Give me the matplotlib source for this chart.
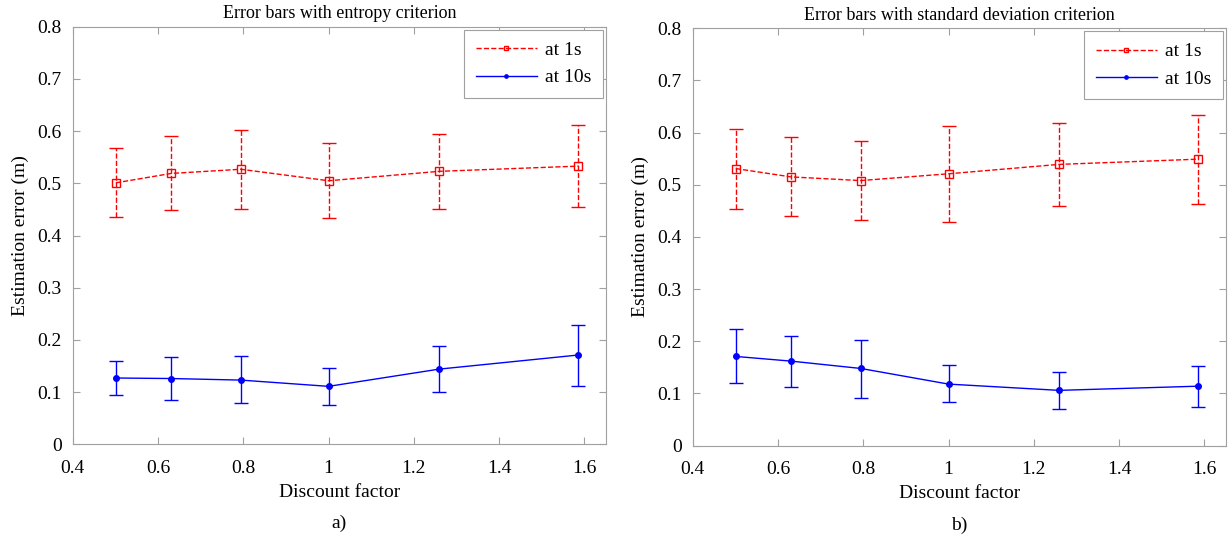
import matplotlib
matplotlib.use("Agg")
import matplotlib.pyplot as plt
from matplotlib.ticker import FuncFormatter
import numpy as np

plt.rcParams['font.family'] = ['Liberation Serif', 'DejaVu Serif']

# discount factors (10^-0.3 ... 10^0.2)
discount = [0.501, 0.631, 0.794, 1.0, 1.259, 1.585]

# entropy criterion
ent_1s = [0.501, 0.519, 0.527, 0.505, 0.523, 0.533]
ent_1s_low = [0.435, 0.448, 0.450, 0.434, 0.450, 0.454]
ent_1s_high = [0.567, 0.591, 0.603, 0.577, 0.595, 0.611]
ent_10s = [0.127, 0.126, 0.123, 0.111, 0.144, 0.171]
ent_10s_low = [0.094, 0.085, 0.079, 0.075, 0.101, 0.112]
ent_10s_high = [0.160, 0.167, 0.169, 0.146, 0.189, 0.229]

# standard deviation criterion
std_1s = [0.531, 0.515, 0.508, 0.521, 0.539, 0.549]
std_1s_low = [0.454, 0.441, 0.432, 0.428, 0.459, 0.464]
std_1s_high = [0.607, 0.591, 0.584, 0.613, 0.619, 0.634]
std_10s = [0.171, 0.162, 0.148, 0.118, 0.106, 0.114]
std_10s_low = [0.120, 0.113, 0.092, 0.084, 0.070, 0.075]
std_10s_high = [0.223, 0.211, 0.203, 0.154, 0.141, 0.153]

titles = ["Error bars with entropy criterion",
          "Error bars with standard deviation criterion"]
panel_labels = ["a)", "b)"]
series_labels = ["at 1s", "at 10s"]

fig = plt.figure(figsize=(12.31, 5.38), dpi=100)
ax1 = fig.add_axes([0.0591, 0.1742, 0.433, 0.776])
ax2 = fig.add_axes([0.5627, 0.1716, 0.433, 0.776])

fmt = FuncFormatter(lambda v, p: "%g" % round(v, 2))
grey = "#a0a0a0"


def err(mid, low, high):
    mid = np.array(mid)
    return [mid - np.array(low), np.array(high) - mid]


panels = [
    (ax1, ent_1s, ent_1s_low, ent_1s_high, ent_10s, ent_10s_low, ent_10s_high),
    (ax2, std_1s, std_1s_low, std_1s_high, std_10s, std_10s_low, std_10s_high),
]

for i, (ax, r, rl, rh, b, bl, bh) in enumerate(panels):
    red = ax.errorbar(discount, r, yerr=err(r, rl, rh), color="red", ls="--",
                      lw=1, marker="s", ms=6, mfc="none", mec="red",
                      capsize=5, elinewidth=1)
    red[2][0].set_linestyle("--")
    blue = ax.errorbar(discount, b, yerr=err(b, bl, bh), color="blue", ls="-",
                       lw=1, marker="o", ms=4, mfc="blue", mec="blue",
                       capsize=5, elinewidth=1)

    ax.set_xlim(0.4, 1.65)
    ax.set_ylim(0, 0.8)
    ax.set_xticks(np.arange(0.4, 1.61, 0.2))
    ax.set_yticks(np.arange(0, 0.81, 0.1))
    ax.xaxis.set_major_formatter(fmt)
    ax.yaxis.set_major_formatter(fmt)
    ax.tick_params(direction="in", top=True, right=True, length=5,
                   color=grey, labelsize=14)
    ax.tick_params(axis="x", pad=11)
    ax.tick_params(axis="y", pad=8)
    for s in ax.spines.values():
        s.set_color(grey)
    ax.set_title(titles[i], fontsize=13, pad=6)
    ax.set_xlabel("Discount factor", fontsize=14, labelpad=5)
    ax.set_ylabel("Estimation error (m)", fontsize=14, labelpad=6)
    ax.text(0.5, -0.19, panel_labels[i], transform=ax.transAxes,
            ha="center", va="center", fontsize=14)

    leg = ax.legend([red[0], blue[0]], series_labels, loc="upper right",
                    fontsize=14, fancybox=False, edgecolor=grey, framealpha=1,
                    handlelength=3.15, handletextpad=0.4, labelspacing=0.5,
                    borderpad=0.6, markerscale=0.6, borderaxespad=0.15)
    leg.get_frame().set_linewidth(0.8)

fig.savefig("out.png", dpi=100)
